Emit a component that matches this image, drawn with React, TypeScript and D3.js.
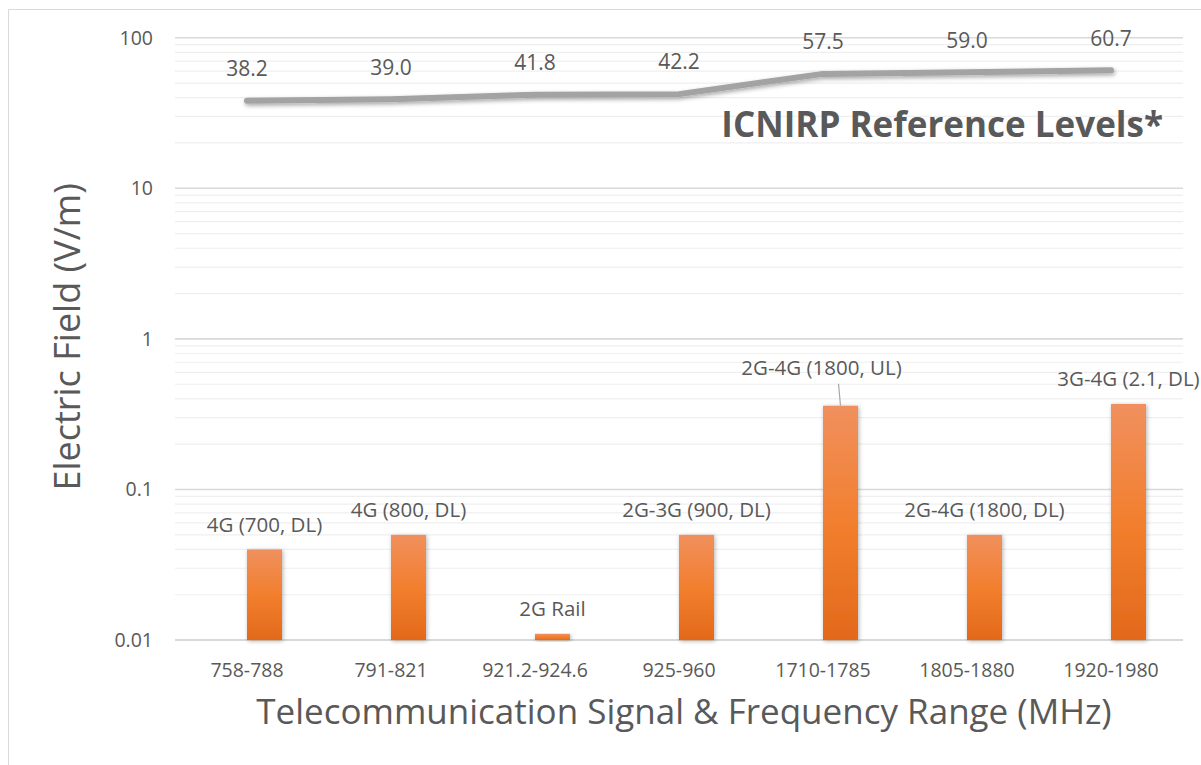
import React from "react";
import * as d3 from "d3";

const categories = ["758-788", "791-821", "921.2-924.6", "925-960", "1710-1785", "1805-1880", "1920-1980"];
const signals = ["4G (700, DL)", "4G (800, DL)", "2G Rail", "2G-3G (900, DL)", "2G-4G (1800, UL)", "2G-4G (1800, DL)", "3G-4G (2.1, DL)"];
const measured = [0.04, 0.05, 0.011, 0.05, 0.36, 0.05, 0.37];
const icnirp = [38.2, 39.0, 41.8, 42.2, 57.5, 59.0, 60.7];
const yTicks = [0.01, 0.1, 1, 10, 100];
const yTickLabels = ["0.01", "0.1", "1", "10", "100"];

const W = 1201;
const H = 765;
const plot = { left: 175, right: 1183, top: 37.7, bottom: 640.1 };
const font = "'Open Sans', sans-serif";
const textColor = "#595959";

export default function App() {
  const x = d3.scaleBand<string>().domain(categories).range([plot.left, plot.right]).padding(0);
  const y = d3.scaleLog().domain([0.01, 100]).range([plot.bottom, plot.top]);
  const bw = x.bandwidth();
  const barW = 35;
  const barShift = 17.5;

  const minors: number[] = [];
  for (let e = -2; e < 2; e++) {
    for (let m = 2; m <= 9; m++) minors.push(m * Math.pow(10, e));
  }

  const cx = (c: string) => (x(c) as number) + bw / 2;
  const line = d3
    .line<number>()
    .x((_, i) => cx(categories[i]))
    .y((d) => y(d));

  const labelDx = [0, 0, 0, 0, -19, 0, 0];
  const labelDy = [0, 0, 0, 0, -13, 0, 0];

  return (
    <svg width={W} height={H} style={{ position: "absolute", left: 0, top: 0, background: "#fff" }}>
      <defs>
        <linearGradient id="barGrad" x1="0" y1="0" x2="0" y2="1">
          <stop offset="0%" stopColor="#f0905e" />
          <stop offset="50%" stopColor="#f27f2e" />
          <stop offset="100%" stopColor="#e2691b" />
        </linearGradient>
        <filter id="barShadow" x="-30%" y="-10%" width="160%" height="130%">
          <feDropShadow dx="1" dy="1" stdDeviation="2" floodColor="#000" floodOpacity="0.3" />
        </filter>
        <filter id="lineShadow" x="-10%" y="-50%" width="120%" height="300%">
          <feDropShadow dx="1" dy="2" stdDeviation="2" floodColor="#000" floodOpacity="0.35" />
        </filter>
      </defs>
      <rect x={0} y={0} width={W} height={H} fill="#fff" />
      <line x1={8.5} y1={9.5} x2={W} y2={9.5} stroke="#d9d9d9" strokeWidth={1} />
      <line x1={8.5} y1={9.5} x2={8.5} y2={H} stroke="#d9d9d9" strokeWidth={1} />

      {minors.map((v, i) => (
        <line key={"m" + i} x1={plot.left} x2={plot.right} y1={y(v)} y2={y(v)} stroke="#efefef" strokeWidth={1.2} />
      ))}
      {yTicks.map((v, i) => (
        <line key={"g" + i} x1={plot.left} x2={plot.right} y1={y(v)} y2={y(v)} stroke="#d9d9d9" strokeWidth={i === 0 ? 2 : 1.6} />
      ))}
      {yTicks.map((v, i) => (
        <text key={"t" + i} x={153} y={y(v)} dy="0.35em" textAnchor="end" fontFamily={font} fontSize={19.5} fill={textColor}>
          {yTickLabels[i]}
        </text>
      ))}

      {measured.map((v, i) => {
        const bx = cx(categories[i]) + barShift - barW / 2;
        return (
          <rect
            key={"b" + i}
            x={bx}
            y={y(v)}
            width={barW}
            height={y(0.01) - y(v)}
            fill="url(#barGrad)"
            filter="url(#barShadow)"
          />
        );
      })}

      {measured.map((v, i) => {
        const bxc = cx(categories[i]) + barShift;
        const lx = bxc + labelDx[i];
        const ly = y(v) - 25 + labelDy[i];
        return (
          <g key={"bl" + i}>
            {labelDy[i] !== 0 && (
              <line x1={bxc - 2} y1={ly + 16} x2={bxc} y2={y(v)} stroke="#a6a6a6" strokeWidth={1.2} />
            )}
            <text x={lx} y={ly} dy="0.35em" textAnchor="middle" fontFamily={font} fontSize={20.5} fill={textColor}>
              {signals[i]}
            </text>
          </g>
        );
      })}

      <path
        d={line(icnirp) as string}
        fill="none"
        stroke="#a3a3a3"
        strokeWidth={6}
        strokeLinecap="round"
        strokeLinejoin="round"
        filter="url(#lineShadow)"
      />
      {icnirp.map((v, i) => (
        <text key={"ll" + i} x={cx(categories[i])} y={y(v) - 32} dy="0.35em" textAnchor="middle" fontFamily={font} fontSize={21} fill={textColor}>
          {v.toFixed(1)}
        </text>
      ))}
      <text x={1163} y={137} textAnchor="end" fontFamily={font} fontSize={35} fontWeight="bold" fill={textColor}>
        ICNIRP Reference Levels*
      </text>

      {categories.map((c, i) => (
        <text key={"c" + i} x={cx(c)} y={670} dy="0.35em" textAnchor="middle" fontFamily={font} fontSize={19.5} fill={textColor}>
          {c}
        </text>
      ))}

      <text
        transform={`translate(67, ${(plot.top + plot.bottom) / 2 - 2}) rotate(-90)`}
        dy="0.35em"
        textAnchor="middle"
        fontFamily={font}
        fontSize={36}
        fill={textColor}
      >
        Electric Field (V/m)
      </text>
      <text x={684} y={712} dy="0.35em" textAnchor="middle" fontFamily={font} fontSize={35} fill={textColor}>
        Telecommunication Signal &amp; Frequency Range (MHz)
      </text>
    </svg>
  );
}
